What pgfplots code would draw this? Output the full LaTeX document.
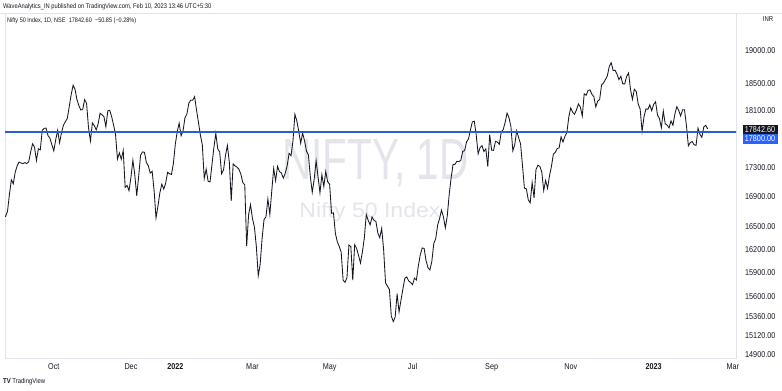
\documentclass[border=0pt]{standalone}
\usepackage{pgfplots}
\pgfplotsset{compat=1.18}
\usepackage{pgfplotstable}
\usepackage{graphicx}
\usepackage{fontspec}
\setmainfont{Liberation Sans}
\newfontfamily\tvf{Liberation Sans}[FakeStretch=0.85]
\definecolor{tvline}{HTML}{131722}
\definecolor{tvblue}{HTML}{2962FF}
\definecolor{tvblueline}{HTML}{2D5BD0}
\definecolor{tvborder}{HTML}{E0E3EB}
\definecolor{tvtext}{HTML}{131722}
\definecolor{tvgray}{HTML}{50535E}
\definecolor{tvwm}{HTML}{E3E5EA}

\pgfplotstableread{
idx close
-91 16496
-90 16625
-89 16634
-88 16636
-87 16705
-86 16931
-85 17132
-84 17076
-83 17234
-82 17324
-81 17377
-80 17362
-79 17353
-78 17369
-77 17355
-76 17380
-75 17519
-74 17630
-73 17585
-72 17397
-71 17562
-70 17546
-69 17823
-68 17853
-67 17855
-66 17748
-65 17711
-64 17618
-63 17532
-62 17691
-61 17822
-60 17646
-59 17790
-58 17895
-57 17946
-56 17992
-55 18162
-54 18339
-53 18477
-52 18419
-51 18267
-50 18179
-49 18115
-48 18126
-47 18268
-46 18211
-45 17857
-44 17672
-43 17930
-42 17889
-41 17829
-40 17917
-39 18069
-38 18045
-37 18017
-36 17874
-35 18103
-34 18109
-33 18018
-32 17899
-31 17765
-30 17417
-29 17503
-28 17416
-27 17537
-26 17027
-25 17054
-24 16983
-23 17167
-22 17401
-21 17197
-20 16913
-19 17177
-18 17470
-17 17517
-16 17512
-15 17368
-14 17325
-13 17222
-12 17248
-11 16985
-10 16615
-9 16771
-8 16955
-7 17072
-6 17004
-5 17086
-4 17233
-3 17214
-2 17204
-1 17354
0 17625
1 17806
2 17925
3 17746
4 17813
5 18003
6 18056
7 18212
8 18258
9 18256
10 18309
11 18113
12 17938
13 17757
14 17617
15 17149
16 17278
17 17110
18 17102
19 17340
20 17577
21 17780
22 17560
23 17516
24 17214
25 17266
26 17464
27 17606
28 17375
29 16843
30 17352
31 17322
32 17304
33 17276
34 17207
35 17092
36 17063
37 16248
38 16658
39 16794
40 16606
41 16498
42 16245
43 15863
44 16013
45 16345
46 16594
47 16630
48 16871
49 16663
50 16976
51 17287
52 17118
53 17316
54 17246
55 17223
56 17153
57 17222
58 17325
59 17498
60 17465
61 17670
62 18053
63 17957
64 17808
65 17639
66 17784
67 17675
68 17530
69 17476
70 17174
71 16959
72 17137
73 17393
74 17172
75 16954
76 17201
77 17038
78 17245
79 17103
80 17069
81 16678
82 16683
83 16411
84 16302
85 16240
86 16167
87 15808
88 15782
89 15842
90 16259
91 16241
92 15809
93 16266
94 16215
95 16125
96 16026
97 16170
98 16352
99 16661
100 16585
101 16523
102 16628
103 16584
104 16570
105 16416
106 16356
107 16478
108 16202
109 15774
110 15732
111 15692
112 15360
113 15294
114 15350
115 15638
116 15413
117 15557
118 15699
119 15832
120 15850
121 15799
122 15780
123 15752
124 15835
125 15810
126 15990
127 16133
128 16221
129 16216
130 16058
131 15967
132 15939
133 16049
134 16279
135 16341
136 16521
137 16606
138 16719
139 16632
140 16484
141 16642
142 16930
143 17158
144 17340
145 17345
146 17388
147 17382
148 17398
149 17525
150 17535
151 17659
152 17698
153 17825
154 17944
155 17956
156 17758
157 17491
158 17577
159 17605
160 17523
161 17559
162 17313
163 17759
164 17543
165 17539
166 17666
167 17655
168 17624
169 17798
170 17833
171 17936
172 18070
173 18004
174 17877
175 17531
176 17622
177 17816
178 17718
179 17630
180 17327
181 17016
182 17007
183 16859
184 16818
185 17094
186 16887
187 17274
188 17331
189 17315
190 17241
191 16984
192 17124
193 17014
194 17186
195 17312
196 17486
197 17512
198 17564
199 17576
200 17731
201 17656
202 17737
203 17787
204 18012
205 18145
206 18083
207 18053
208 18117
209 18203
210 18157
211 18028
212 18350
213 18329
214 18403
215 18410
216 18344
217 18308
218 18160
219 18244
220 18267
221 18484
222 18513
223 18562
224 18618
225 18758
226 18812
227 18696
228 18701
229 18643
230 18561
231 18609
232 18497
233 18498
234 18608
235 18660
236 18415
237 18269
238 18420
239 18385
240 18199
241 18127
242 17807
243 18015
244 18132
245 18123
246 18191
247 18105
248 18197
249 18233
250 18043
251 17992
252 17859
253 18101
254 17914
255 17896
256 17858
257 17957
258 17895
259 18053
260 18165
261 18108
262 18027
263 18119
264 18118
265 17892
266 17604
267 17649
268 17662
269 17616
270 17610
271 17854
272 17765
273 17722
274 17872
275 17893
276 17843
}\niftydata

\begin{document}
\begin{tikzpicture}[x=1pt,y=1pt]
\path[use as bounding box] (-5,-33) rectangle (777,358);
% watermark
\node[text=tvwm, inner sep=0pt] at (370.5,195) {\resizebox{186pt}{40pt}{\tvf NIFTY, 1D}};
\node[text=tvwm, inner sep=0pt] at (365,146) {\resizebox{141pt}{15pt}{\tvf Nifty 50 Index}};
\begin{axis}[
  at={(0,0)}, anchor=south west, scale only axis,
  width=731pt, height=345pt,
  xmin=-88.3, xmax=290.7,
  ymode=log, ymin=14856, ymax=19579,
  axis line style={draw=tvborder},
  xtick={-63,-23,0,40,80,123,164,205,248,289},
  xticklabels={Oct,Dec,\textbf{2022},Mar,May,Jul,Sep,Nov,\textbf{2023},Mar},
  ytick={14900,15120,15360,15600,15900,16200,16500,16900,17300,18100,18500,19000},
  yticklabels={14900.00,15120.00,15360.00,15600.00,15900.00,16200.00,16500.00,16900.00,17300.00,18100.00,18500.00,19000.00},
  yticklabel pos=right,
  major tick length=0pt, minor tick length=0pt,
  xticklabel style={font=\tvf\fontsize{8.5}{8.5}\selectfont, text=tvtext, anchor=base, yshift=-11.5pt},
  yticklabel style={font=\tvf\fontsize{8.5}{8.5}\selectfont, text=tvtext, anchor=west, inner sep=0pt, xshift=9pt},
]
\addplot[tvline, line width=0.85pt] table[x=idx, y=close]{\niftydata};
\addplot[tvblueline, line width=1.6pt] coordinates {(-100,17800) (300,17800)};
\end{axis}
% pane separators
\draw[tvborder] (-5,345) -- (777,345);
% price labels
\node[fill=tvline, text=white, inner sep=0pt, minimum width=35pt, minimum height=9.5pt, font=\tvf\fontsize{8.5}{8.5}\selectfont] at (755,228.5) {17842.60};
\node[fill=tvblue, text=white, inner sep=0pt, minimum width=35pt, minimum height=9.5pt, font=\tvf\fontsize{8.5}{8.5}\selectfont] at (755,219) {17800.00};
% header
\node[anchor=west, inner sep=0pt, text=tvtext, font=\tvf\fontsize{6.8}{6.8}\selectfont] at (-2,351.5) {WaveAnalytics\_IN published on TradingView.com, Feb 10, 2023 13:46 UTC+5:30};
\node[anchor=west, inner sep=0pt, text=tvtext, font=\tvf\fontsize{6.5}{6.5}\selectfont] at (2,337.5) {Nifty 50 Index, 1D, NSE\enspace 17842.60\enspace −50.85 (−0.28\%)};
\node[anchor=center, inner sep=0pt, text=tvtext, font=\tvf\fontsize{7}{7}\selectfont] at (763,338.5) {INR};
\node[anchor=west, inner sep=0pt, text=tvtext, font=\tvf\fontsize{7}{7}\selectfont] at (-2,-24) {\textbf{TV} TradingView};
\end{tikzpicture}
\end{document}
